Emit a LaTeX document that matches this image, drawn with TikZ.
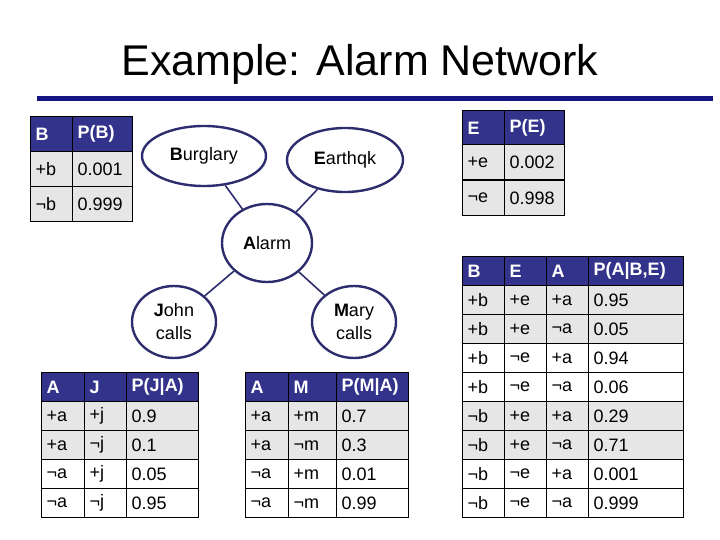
\documentclass[tikz,border=0pt]{standalone}
\usepackage{fontspec}
\setmainfont{Liberation Sans}
\usetikzlibrary{shapes.geometric}
\definecolor{hdrblue}{RGB}{51,51,140}
\definecolor{edgeblue}{RGB}{45,45,110}
\definecolor{barblue}{RGB}{20,20,130}
\definecolor{cellgray}{RGB}{230,230,230}
\tikzset{
  cell/.style = {draw, line width=1.4pt, anchor=north west, inner xsep=5pt, inner ysep=0pt,
                 font=\fontsize{18}{21}\selectfont},
  hdr/.style = {fill=hdrblue, text=white, font=\fontsize{18}{21}\selectfont\bfseries},
  gry/.style = {fill=cellgray},
  wht/.style = {fill=white},
  var/.style = {draw=edgeblue, line width=2.4pt, ellipse, align=center,
                font=\fontsize{18}{23}\selectfont},
  link/.style = {draw=edgeblue, line width=1.6pt}
}
\begin{document}
\begin{tikzpicture}[x=1pt, y=-1pt]
  \useasboundingbox (0,0) rectangle (720,540);
  % title
  \node (title) at (360,64) {\fontsize{43}{48}\selectfont Example: Alarm Network};
  \fill[barblue] (37,96) rectangle (713,101);

  % network
  \node[var, minimum width=124pt, minimum height=60pt] (burglary) at (204,156) {\textbf{B}urglary};
  \node[var, minimum width=116pt, minimum height=64pt] (earthqk) at (345,160) {\textbf{E}arthqk};
  \node[var, minimum width=90pt, minimum height=78pt] (alarm) at (267,243) {\textbf{A}larm};
  \node[var, minimum width=84pt, minimum height=72pt] (john) at (174,322) {\textbf{J}ohn\\calls};
  \node[var, minimum width=84pt, minimum height=72pt] (mary) at (354,322) {\textbf{M}ary\\calls};
  \draw[link] (burglary) -- (alarm);
  \draw[link] (earthqk) -- (alarm);
  \draw[link] (alarm) -- (john);
  \draw[link] (alarm) -- (mary);

  % P(B)
  \foreach \r/\y/\s/\a/\b in {0/116/hdr/B/P(B), 1/151/gry/+b/0.001, 2/186/gry/¬b/0.999}{
    \node[cell, \s, minimum width=42pt, minimum height=35pt, text width=32pt] (pb\r a) at (30,\y) {\a};
    \node[cell, \s, minimum width=60pt, minimum height=35pt, text width=50pt] (pb\r b) at (72,\y) {\b};
  }
  % P(E)
  \foreach \r/\y/\s/\a/\b in {0/110/hdr/E/P(E), 1/144/gry/+e/0.002, 2/180/gry/¬e/0.998}{
    \node[cell, \s, minimum width=42pt, minimum height=35pt, text width=32pt] (pe\r a) at (462,\y) {\a};
    \node[cell, \s, minimum width=60pt, minimum height=35pt, text width=50pt] (pe\r b) at (504,\y) {\b};
  }
  % P(A|B,E)
  \foreach \r/\y/\s/\a/\b/\c/\d in {0/256/hdr/B/E/A/{P(A|B,E)},
      1/285/gry/+b/+e/+a/0.95, 2/314/gry/+b/+e/¬a/0.05,
      3/343/wht/+b/¬e/+a/0.94, 4/372/wht/+b/¬e/¬a/0.06,
      5/401/gry/¬b/+e/+a/0.29, 6/430/gry/¬b/+e/¬a/0.71,
      7/459/wht/¬b/¬e/+a/0.001, 8/488/wht/¬b/¬e/¬a/0.999}{
    \node[cell, \s, minimum width=42pt, minimum height=29pt, text width=32pt] (pa\r a) at (462,\y) {\a};
    \node[cell, \s, minimum width=42pt, minimum height=29pt, text width=32pt] (pa\r b) at (504,\y) {\b};
    \node[cell, \s, minimum width=42pt, minimum height=29pt, text width=32pt] (pa\r c) at (546,\y) {\c};
    \node[cell, \s, minimum width=95pt, minimum height=29pt, text width=85pt] (pa\r d) at (588,\y) {\d};
  }
  % P(J|A)
  \foreach \r/\y/\s/\a/\b/\c in {0/372/hdr/A/J/{P(J|A)}, 1/401/gry/+a/+j/0.9,
      2/430/gry/+a/¬j/0.1, 3/459/wht/¬a/+j/0.05, 4/488/wht/¬a/¬j/0.95}{
    \node[cell, \s, minimum width=43pt, minimum height=29pt, text width=33pt] (pj\r a) at (41,\y) {\a};
    \node[cell, \s, minimum width=42pt, minimum height=29pt, text width=32pt] (pj\r b) at (84,\y) {\b};
    \node[cell, \s, minimum width=72pt, minimum height=29pt, text width=62pt] (pj\r c) at (126,\y) {\c};
  }
  % P(M|A)
  \foreach \r/\y/\s/\a/\b/\c in {0/372/hdr/A/M/{P(M|A)}, 1/401/gry/+a/+m/0.7,
      2/430/gry/+a/¬m/0.3, 3/459/wht/¬a/+m/0.01, 4/488/wht/¬a/¬m/0.99}{
    \node[cell, \s, minimum width=43pt, minimum height=29pt, text width=33pt] (pm\r a) at (245,\y) {\a};
    \node[cell, \s, minimum width=48pt, minimum height=29pt, text width=38pt] (pm\r b) at (288,\y) {\b};
    \node[cell, \s, minimum width=72pt, minimum height=29pt, text width=62pt] (pm\r c) at (336,\y) {\c};
  }
\end{tikzpicture}
\end{document}
